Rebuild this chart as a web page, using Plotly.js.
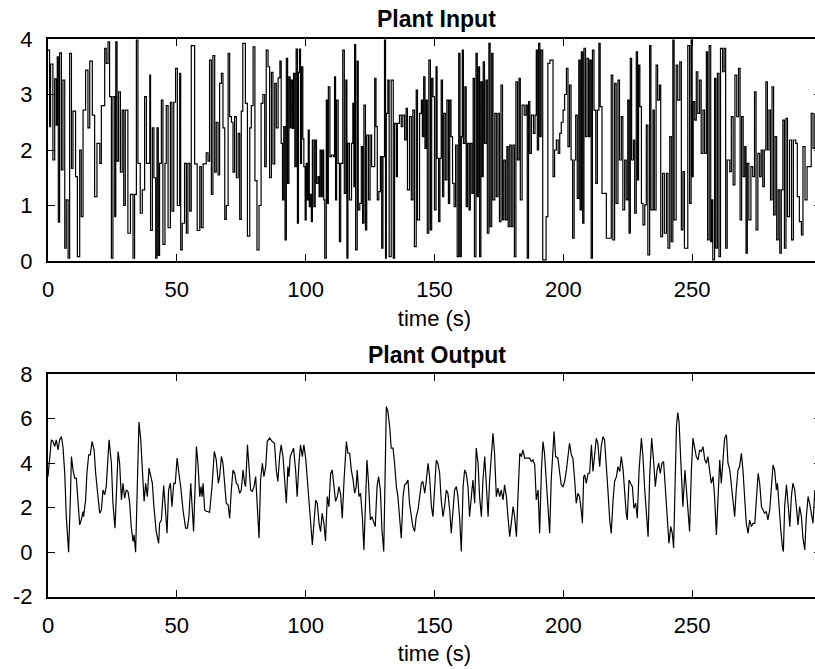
<!DOCTYPE html>
<html>
<head>
<meta charset="utf-8">
<script src="https://cdn.plot.ly/plotly-3.0.1.min.js"></script>
<style>html,body{margin:0;padding:0;background:#fff;overflow:hidden}#chart{width:821px;height:669px}</style>
</head>
<body>
<div id="chart"></div>
<script>
// Plant input: step (zero-order hold) signal, switching times (s) and levels
const inputTime = [0,0.6,1.0,1.9,2.6,3.2,3.6,4.0,4.5,5.2,5.8,6.5,7.1,7.8,8.4,9.1,9.7,10.7,11.4,12.3,12.9,13.6,14.6,15.5,16.2,17.2,18.1,19.0,20.1,20.7,22.0,22.6,23.3,23.9,24.6,25.2,25.9,26.3,26.8,27.4,28.1,28.8,29.4,30.0,31.0,32.0,33.0,33.6,34.3,34.9,35.8,36.6,37.5,38.2,39.5,39.8,40.5,41.1,41.8,42.3,42.8,43.3,44.0,44.6,45.4,45.9,46.6,47.5,48.1,48.8,49.5,50.2,51.1,51.5,52.1,53.0,53.7,54.3,55.0,55.6,56.9,57.9,58.9,59.5,60.2,61.4,62.1,62.7,63.4,64.0,64.7,65.3,66.0,66.6,67.3,67.9,68.6,69.2,69.9,70.5,71.2,71.8,72.4,73.1,73.8,74.4,75.0,75.6,76.6,77.4,78.3,78.9,79.6,80.3,81.1,81.9,82.7,83.4,84.1,84.7,85.4,86.0,86.7,87.3,88.0,88.6,89.3,
90.0,90.5,91.0,91.5,92.0,92.5,93.0,93.5,94.0,94.4,94.9,95.3,95.8,96.3,96.8,97.2,97.6,98.0,98.4,98.9,99.3,99.8,100.2,100.6,101.0,101.4,101.8,102.2,102.6,103.2,103.7,104.2,104.8,105.2,105.6,106.1,106.6,107.0,107.4,108.0,108.4,108.8,109.4,110.0,110.8,111.2,111.6,112.0,112.6,113.1,113.6,114.4,115.0,115.6,116.0,116.4,117.0,117.8,118.3,118.7,119.0,119.4,120.0,120.4,121.0,121.6,122.1,122.6,123.2,123.7,124.4,125.0,125.6,126.8,127.3,127.8,128.4,129.0,129.5,130.0,130.6,131.0,131.3,131.9,132.4,133.2,133.6,134.0,134.5,135.2,135.6,136.4,137.1,137.7,138.4,139.0,139.5,140.3,141.0,141.6,142.2,142.9,143.4,144.2,144.9,145.3,145.8,146.3,146.8,147.2,147.8,148.4,148.9,149.4,150.0,150.6,151.0,151.6,152.1,152.6,153.1,153.6,154.2,154.8,155.4,155.9,156.4,157.0,157.6,158.2,158.8,159.4,159.9,160.4,160.8,161.2,161.8,162.3,162.8,163.4,163.9,164.5,165.0,165.5,166.1,166.6,167.0,167.5,168.0,168.5,168.9,169.4,170.0,170.5,171.1,171.6,172.2,172.7,173.4,174.0,174.6,175.2,175.8,176.4,176.9,177.5,178.1,178.6,179.2,179.8,180.4,181.0,181.6,182.2,182.8,183.3,184.0,184.8,185.5,186.0,186.5,187.0,187.6,188.4,189.0,189.5,189.9,190.4,190.9,191.4,192.0,193.3,
194.0,194.8,196.0,196.6,197.3,198.0,198.6,199.2,199.9,200.5,201.2,201.8,202.4,203.0,203.6,204.2,204.8,205.4,206.0,206.5,207.0,207.5,208.0,208.6,209.2,209.8,210.3,210.8,211.3,211.9,212.6,213.2,213.8,214.3,215.0,215.8,216.7,218.6,219.2,219.9,220.5,221.2,221.8,222.5,223.1,223.8,224.4,225.0,225.5,226.0,226.5,227.2,227.7,228.3,228.8,229.2,229.7,230.3,230.9,231.6,232.2,232.8,233.5,234.0,234.8,235.3,236.0,236.6,237.3,237.8,238.5,239.2,240.0,240.6,241.3,241.9,242.5,243.0,243.8,244.4,245.2,245.8,246.4,247.0,247.7,248.3,249.0,249.6,250.0,250.4,251.0,251.6,252.2,252.9,253.5,254.2,254.8,255.5,256.0,256.6,257.2,257.6,258.0,258.7,259.2,259.8,260.4,261.0,261.8,262.4,263.0,263.6,264.6,265.2,265.9,266.6,267.3,268.0,268.6,269.2,269.8,270.4,270.9,271.4,272.0,272.8,273.5,274.2,274.8,275.5,276.2,276.8,277.4,278.0,278.6,279.2,279.8,280.4,281.0,281.6,282.2,282.8,283.4,284.0,284.6,285.2,285.8,286.4,287.0,287.8,288.6,289.3,290.2,290.8,291.6,292.4,293.0,293.8,294.6,295.4,296.2,296.9,297.6];
const inputLevel = [3.8,2.42,3.55,1.82,3.28,2.45,3.68,0.7,3.75,1.64,3.26,0.23,1.1,0.05,3.74,1.67,2.7,1.52,0.08,2.0,0.8,2.72,3.44,2.4,3.6,2.63,1.16,2.12,1.76,2.8,3.83,3.56,3.95,2.96,0.05,2.96,0.8,3.95,1.8,3.05,1.6,2.72,1.0,2.72,0.5,1.2,0.05,1.2,3.98,1.76,0.86,1.28,2.96,1.76,3.35,0.55,2.4,1.5,0.05,2.4,0.1,1.76,2.9,0.3,1.76,2.8,0.6,2.86,0.9,2.86,3.47,1.0,3.38,0.2,0.68,1.76,0.5,1.76,0.9,3.88,1.75,0.55,1.7,0.6,1.75,1.95,1.8,3.62,1.2,3.7,1.6,2.5,1.55,3.2,3.38,2.4,0.75,1.0,3.74,2.6,2.5,1.6,2.6,1.5,2.3,0.75,2.7,3.92,2.84,0.45,2.4,2.8,3.86,1.45,0.2,1.0,2.84,3.0,1.7,3.8,3.5,1.5,3.4,1.75,3.2,2.4,3.3,
3.6,2.12,1.1,2.42,0.38,3.65,1.4,3.32,2.4,3.26,2.39,3.38,1.7,3.82,0.68,3.4,3.82,1.76,3.5,2.2,1.7,0.74,1.76,1.1,2.36,0.98,1.2,0.71,2.18,0.98,2.18,1.4,1.52,1.16,2.0,1.16,2.0,1.1,0.05,2.9,1.04,3.14,1.88,1.91,1.88,3.32,1.1,2.9,1.76,0.35,1.76,3.8,1.22,3.26,0.05,2.12,1.1,2.12,2.84,1.34,3.9,0.2,3.6,0.92,1.04,2.06,0.68,2.81,0.56,2.27,1.1,2.27,1.7,3.29,2.42,1.1,1.25,1.88,0.23,1.88,3.98,0.05,2.66,3.26,0.08,3.26,3.26,0.05,2.48,1.52,2.48,2.63,2.42,2.63,2.18,2.75,1.28,2.6,1.1,2.72,0.26,3.08,0.74,2.66,2.9,2.24,3.32,2.03,2.9,0.5,3.62,0.56,3.29,2.96,0.92,3.5,1.85,0.71,1.85,3.26,1.16,2.66,1.46,2.9,1.04,2.9,2.24,1.4,0.98,2.09,0.08,3.74,0.08,2.24,3.8,2.12,3.14,0.98,2.12,0.92,2.12,1.22,3.29,0.08,3.74,1.16,3.5,0.08,3.23,1.52,3.59,2.12,3.26,0.5,3.92,0.62,3.74,1.1,2.66,1.16,2.66,0.71,3.17,0.74,1.82,0.74,2.06,0.62,2.09,0.62,2.09,0.08,3.23,1.82,3.29,1.1,2.81,2.63,2.81,0.05,2.87,1.94,2.63,2.3,2.63,3.8,2.0,3.92,2.24,3.8,0.02,0.8,
3.56,3.62,1.52,2.0,2.18,1.94,2.3,2.5,2.72,3.0,3.47,2.06,3.17,1.82,0.41,1.82,2.63,1.13,3.62,0.92,3.77,0.68,3.83,2.24,3.65,2.24,3.62,0.05,3.8,2.72,1.4,2.72,3.92,2.78,1.22,1.22,0.41,3.35,0.38,3.2,1.04,3.26,1.82,2.6,0.92,1.82,1.1,2.9,0.5,3.65,1.82,2.18,0.86,3.77,1.46,3.53,2.78,1.04,0.65,1.01,2.45,0.11,3.88,0.92,2.72,0.92,3.53,2.9,3.17,0.44,1.58,0.5,1.58,0.23,2.24,0.35,3.98,0.74,3.53,2.9,3.59,0.56,1.61,0.23,0.23,3.88,1.04,3.98,1.52,2.87,2.54,3.41,2.66,3.26,1.94,2.72,1.94,3.77,0.38,3.88,0.35,1.1,0.02,3.29,0.23,3.38,0.08,3.83,3.41,3.83,0.23,1.82,1.61,2.6,1.37,3.35,2.6,3.47,0.74,2.6,1.52,2.06,0.14,1.76,0.74,1.7,1.52,3.05,0.56,1.94,1.52,2.0,1.34,2.0,3.23,2.0,2.72,1.1,3.14,0.83,2.24,0.38,1.28,0.14,1.28,2.54,0.23,2.57,0.8,2.18,0.38,2.18,2.12,1.16,0.71,0.47,2.06,1.1,1.7,1.7,2.66,2.03,2.66];

// Plant output: sampled response
const outputTime = [0,0.65,1.3,1.9,2.6,3.2,3.9,4.5,5.2,5.8,6.5,7.1,8.0,8.7,9.1,9.7,10.35,11.0,11.6,12.3,12.9,13.6,13.8,14.6,15.1,15.8,16.4,17.1,17.9,18.5,19.4,20.05,20.7,21.35,22.0,22.6,23.7,24.6,25.2,26.0,26.5,27.2,27.8,28.5,29.1,29.75,30.4,31.05,31.7,32.3,33.0,33.4,34.0,34.5,35.3,36.0,36.6,37.3,37.9,38.55,39.2,39.8,40.5,41.1,42.0,42.95,43.3,44.0,44.9,45.5,46.2,46.8,47.5,48.1,48.8,49.4,50.1,50.8,51.5,52.4,53.4,54.1,54.7,55.4,56.0,56.5,57.05,57.6,58.2,58.9,59.4,59.8,60.2,60.8,61.45,62.1,62.7,63.65,64.55,65.3,66.1,66.6,67.3,67.9,68.7,69.2,69.9,70.5,71.15,71.8,72.45,73.1,73.7,74.4,75.0,75.7,76.3,76.7,77.4,78.0,78.65,79.3,79.95,80.6,81.1,81.9,82.5,83.2,83.8,84.5,85.1,86.0,
87.0,87.9,88.6,89.2,89.9,90.5,91.2,91.8,92.5,93.1,93.5,94.0,94.8,95.3,96.1,96.7,97.4,98.0,98.7,99.3,100.0,100.6,101.3,101.9,102.6,103.2,103.9,104.5,105.2,105.8,106.4,107.1,107.7,108.4,109.0,109.7,110.3,111.0,111.6,112.3,112.9,113.6,114.2,114.9,115.8,116.4,117.1,117.7,118.4,119.0,119.6,120.0,120.7,121.3,122.0,122.6,123.3,123.8,124.4,125.1,125.7,126.4,127.0,127.7,128.3,129.0,129.6,130.3,130.9,131.3,131.9,132.6,133.2,133.9,134.5,135.2,135.8,136.5,137.1,137.8,138.4,139.1,139.7,140.3,141.0,141.6,142.3,142.9,143.6,144.2,144.9,145.5,146.2,146.8,147.5,148.1,148.8,149.4,150.1,150.7,151.3,152.0,152.6,153.3,153.9,154.6,155.2,155.9,156.5,157.2,157.8,158.5,159.1,159.8,160.4,161.1,161.7,162.3,163.0,163.6,164.3,164.9,165.6,166.2,166.9,167.5,168.2,168.8,169.5,170.1,170.8,171.4,172.1,172.7,173.3,174.0,174.6,175.3,175.9,176.6,177.2,177.9,178.5,179.2,179.8,180.5,181.1,181.8,182.4,183.1,183.7,184.3,185.0,185.6,186.3,186.9,187.6,188.2,188.9,189.5,190.2,190.8,191.5,192.1,
192.7,193.4,194.0,194.7,195.3,196.0,196.4,197.0,197.9,198.6,199.2,199.9,200.5,201.2,201.8,202.4,203.1,203.7,204.4,205.0,205.7,206.3,207.0,207.4,207.9,208.3,208.9,209.6,210.2,210.9,211.5,212.2,212.8,213.4,214.1,214.7,215.4,216.0,216.7,217.3,218.0,218.6,219.3,219.9,220.6,221.2,221.9,222.5,223.2,223.8,224.4,224.8,225.5,226.1,226.8,227.4,228.1,228.7,229.4,230.3,230.9,231.6,232.2,232.9,233.5,234.3,235.1,235.7,236.4,237.0,237.6,238.3,238.9,239.6,240.2,241.0,241.7,242.3,242.8,243.3,243.9,244.4,244.9,245.4,245.9,246.4,247.2,247.7,248.5,249.0,249.7,250.3,251.0,251.6,252.3,252.9,253.6,254.2,254.9,255.5,256.1,256.8,257.4,258.1,258.7,259.4,260.0,260.7,261.3,262.0,262.6,263.3,263.9,264.6,265.2,265.9,266.5,267.1,267.8,268.4,269.1,269.7,270.4,271.0,271.7,272.3,273.0,273.6,274.3,274.9,275.6,276.2,276.9,277.5,278.1,278.8,279.4,280.1,280.7,281.4,282.0,282.7,283.1,283.7,284.4,285.0,285.4,285.9,286.6,287.2,287.9,288.5,289.1,289.8,290.4,291.1,291.7,292.4,293.0,293.7,294.3,295.0,295.6,296.3,296.9,297.6];
const outputValue = [3.4,4.45,5.05,5.0,4.75,5.05,4.6,5.05,5.2,4.75,3.55,1.6,0,2.5,4.3,3.7,3.33,3.33,2.2,1.23,1.45,1.83,1.6,2.35,3.55,4.38,4.38,4.98,4.6,3.55,2.5,1.75,1.9,2.8,2.58,2.95,5.05,4.0,2.2,1.08,2.5,4.53,4.0,2.35,3.1,2.43,2.8,2.73,2.2,1.15,0.48,0.78,0,2.5,5.85,5.05,3.7,2.28,3.1,2.5,3.78,3.4,3.1,2.05,0.93,0.4,1.3,1.45,3.0,2.05,0.85,2.8,3.1,2.05,3.1,3.1,4.23,3.55,2.95,1.9,1.08,1.08,1.6,3.1,1.9,0.93,2.8,4.75,4.0,2.5,2.95,2.5,3.1,1.9,1.83,1.83,1.78,2.95,4.53,4.15,3.1,3.4,4.3,4.0,2.88,2.2,2.13,1.53,2.8,3.7,3.55,3.1,3.03,2.65,2.8,3.7,3.1,2.95,4.83,4.0,2.8,2.73,2.95,3.4,2.2,0.63,3.25,4.0,3.4,3.85,4.98,5.13,
4.98,4.9,3.7,3.18,4.3,4.83,4.3,3.18,2.2,3.85,3.4,4.3,4.6,4.68,3.7,2.5,4.0,4.83,4.3,4.83,4.23,3.4,2.35,1.3,0.33,1.3,2.35,2.2,1.3,0.93,1.75,1.3,0.5,2.5,2.05,3.55,3.7,2.95,2.28,2.5,2.95,2.58,1.53,3.25,4.98,4.45,4.45,3.7,3.25,2.65,2.95,3.7,2.5,2.65,1.6,0.1,2.95,4.15,3.1,1.45,1.6,1.3,1.15,2.95,3.4,2.8,1.0,0.03,4.0,6.55,6.33,5.65,4.68,4.68,4.0,2.95,2.5,1.6,0.63,2.5,3.03,3.1,3.25,2.2,1.6,1.15,0.93,1.6,1.9,2.5,3.1,3.18,2.65,3.18,4.0,3.4,2.05,1.6,3.25,4.15,4.0,3.55,2.35,1.6,2.05,2.8,2.65,1.9,0.85,2.2,2.8,2.95,2.5,1.45,0.03,2.95,3.7,3.55,2.95,1.6,2.5,3.25,2.2,4.68,4.0,2.5,1.6,3.25,4.3,3.25,1.6,3.25,4.3,5.35,4.45,2.5,2.88,2.5,2.8,2.35,3.03,2.5,1.6,0.7,1.3,2.05,1.6,0.7,2.5,4.45,4.3,4.6,4.23,4.23,4.23,4.23,4.08,4.15,3.93,2.35,2.8,0.85,3.7,4.98,
4.45,3.25,1.9,0.85,3.25,5.05,5.43,4.3,4.23,3.55,3.03,2.95,3.18,3.7,4.3,4.9,4.38,4.23,3.25,2.2,2.65,2.5,1.83,1.3,3.4,3.48,3.1,3.55,3.55,4.83,3.63,4.6,5.13,4.9,3.85,4.75,5.2,5.05,4.0,2.8,1.45,0.85,2.35,3.18,3.4,3.85,3.63,4.3,3.7,2.5,1.75,1.45,3.25,3.1,2.95,1.98,2.2,1.53,3.7,5.13,4.3,2.8,1.6,0.7,3.4,5.13,4.0,2.95,3.7,4.0,3.55,4.0,4.08,2.8,1.45,0.4,1.15,0.85,0.18,3.25,5.65,6.28,5.88,4.6,3.25,2.05,3.7,2.95,1.6,0.93,3.7,5.13,4.68,4.3,4.15,4.6,4.53,4.75,4.15,4.0,4.3,3.7,3.1,3.4,2.5,0.78,2.5,4.15,3.1,4.3,5.13,5.28,4.0,3.7,2.95,2.05,1.6,2.8,3.7,3.85,4.45,3.7,2.5,1.3,0.85,1.45,1.15,1.3,1.3,2.5,3.55,3.1,2.05,1.9,1.75,1.83,1.45,1.9,3.1,3.93,3.7,2.8,3.1,1.9,1.0,0.25,0.03,2.05,3.03,2.2,1.15,2.5,3.1,2.8,2.05,1.23,2.05,1.6,0.63,0.1,1.6,2.5,2.2,1.6,1.3,2.8];

const xTicks = [0, 50, 100, 150, 200, 250];
const inputTicks = [0, 1, 2, 3, 4];
const outputTicks = [-2, 0, 2, 4, 6, 8];
const titles = ['Plant Input', 'Plant Output'];
const xLabel = 'time (s)';

const FONT = 'Liberation Sans, Arial, Helvetica, sans-serif';
const H = 669;
const W = 821; // plot box runs slightly past the 815 px window, as in the reference

const traces = [
  {x: inputTime, y: inputLevel, type: 'scatter', mode: 'lines',
   line: {color: '#000', width: 1.2, shape: 'hv'}, xaxis: 'x', yaxis: 'y', hoverinfo: 'x+y'},
  {x: outputTime, y: outputValue, type: 'scatter', mode: 'lines',
   line: {color: '#000', width: 1.2}, xaxis: 'x2', yaxis: 'y2', hoverinfo: 'x+y'}
];

function xAxis(anchor) {
  return {
    anchor: anchor, domain: [0, 1], range: [0, 300],
    tickmode: 'array', tickvals: xTicks, ticktext: xTicks.map(String),
    ticks: 'inside', ticklen: 7, tickwidth: 1, tickcolor: '#000',
    showline: true, linewidth: 2, linecolor: '#000', mirror: 'allticks',
    showgrid: false, zeroline: false, ticklabelstandoff: 8,
    tickfont: {family: FONT, size: 22, color: '#000'},
    title: {text: xLabel, font: {family: FONT, size: 22, color: '#000'}, standoff: 9}
  };
}
function yAxis(anchor, range, ticks, dom) {
  return {
    anchor: anchor, domain: dom, range: range,
    tickmode: 'array', tickvals: ticks, ticktext: ticks.map(String),
    ticks: 'inside', ticklen: 7, tickwidth: 1, tickcolor: '#000',
    showline: true, linewidth: 2, linecolor: '#000', mirror: 'ticks',
    showgrid: false, zeroline: false, ticklabelstandoff: 9,
    tickfont: {family: FONT, size: 22, color: '#000'}
  };
}

const layout = {
  width: W, height: H,
  margin: {l: 48, r: 0, t: 0, b: 0},
  paper_bgcolor: '#fff', plot_bgcolor: '#fff',
  showlegend: false,
  font: {family: FONT, size: 22, color: '#000'},
  xaxis: xAxis('y'),
  yaxis: yAxis('x', [0, 4], inputTicks, [(H - 261) / H, (H - 39) / H]),
  xaxis2: xAxis('y2'),
  yaxis2: yAxis('x2', [-2, 8], outputTicks, [(H - 596.7) / H, (H - 374.3) / H]),
  annotations: [
    {text: '<b>' + titles[0] + '</b>', xref: 'paper', yref: 'paper', x: 0.5, y: 1 - 19 / H, xshift: 2,
     xanchor: 'center', yanchor: 'middle', showarrow: false, font: {family: FONT, size: 23, color: '#000'}},
    {text: '<b>' + titles[1] + '</b>', xref: 'paper', yref: 'paper', x: 0.5, y: 1 - 355 / H, xshift: 2,
     xanchor: 'center', yanchor: 'middle', showarrow: false, font: {family: FONT, size: 23, color: '#000'}}
  ]
};

Plotly.newPlot('chart', traces, layout, {displayModeBar: false, staticPlot: true});
</script>
</body>
</html>
